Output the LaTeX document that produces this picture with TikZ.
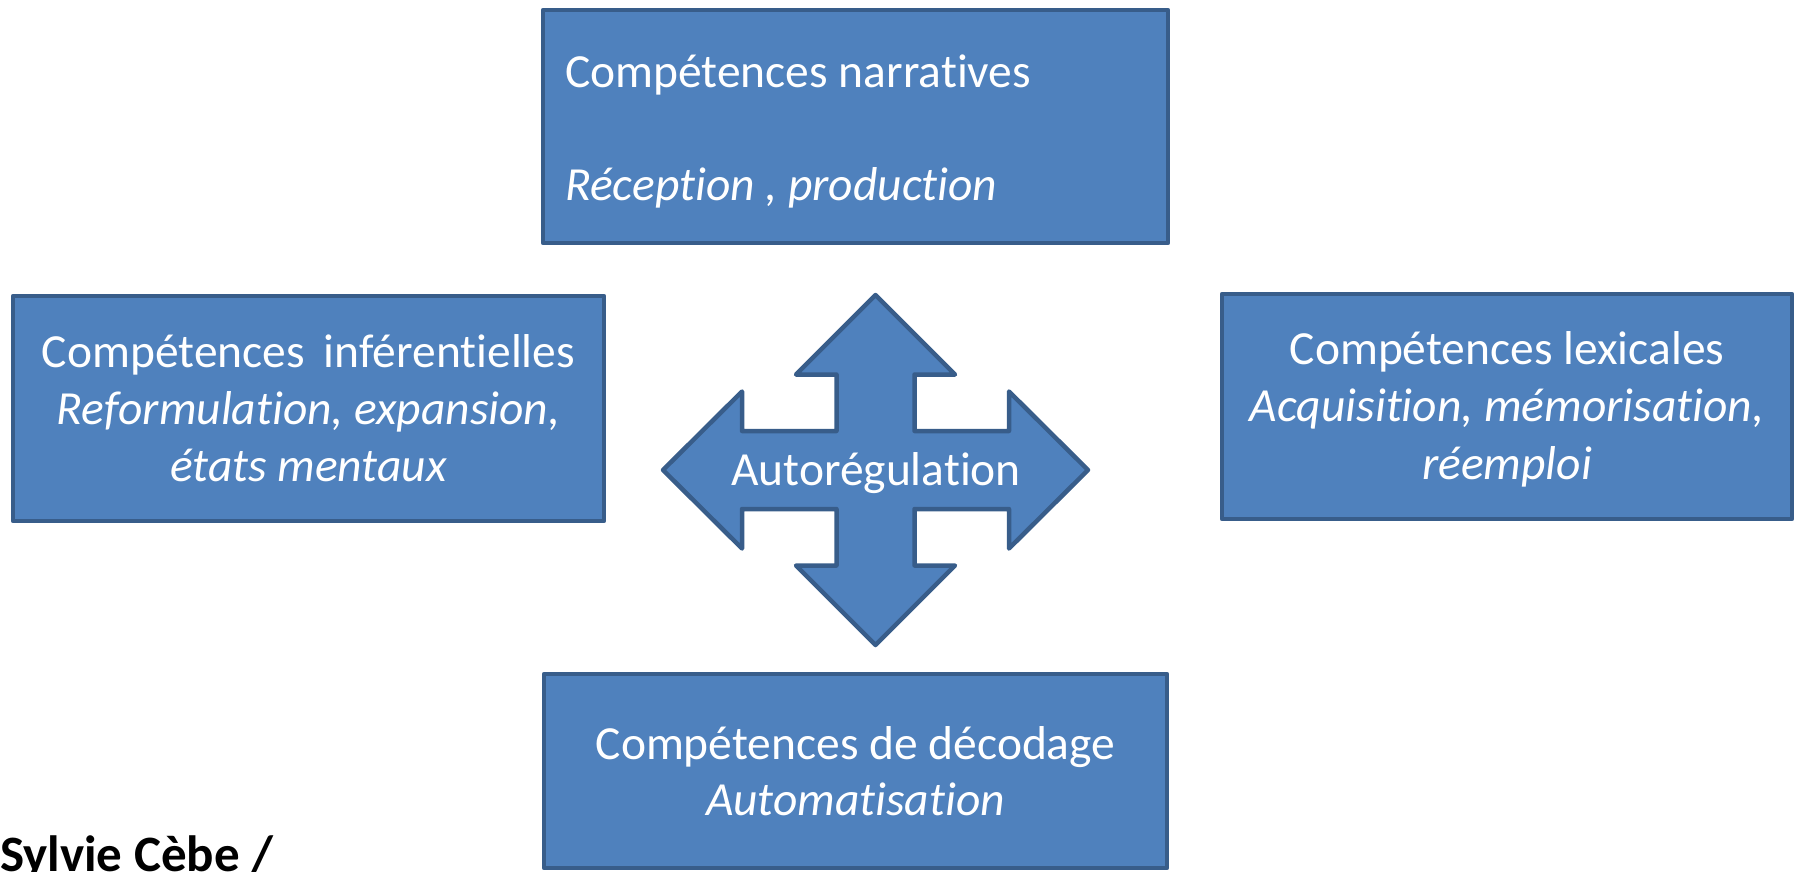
\documentclass[tikz,border=0pt]{standalone}
\usepackage{fontspec}
\setmainfont{Carlito}[Ligatures=NoCommon]
\definecolor{boxfill}{HTML}{4F81BD}
\definecolor{boxline}{HTML}{385D8A}
\tikzset{
  box/.style={draw=boxline, fill=boxfill, line width=4.5pt, line join=round, rectangle, inner sep=0pt},
  shapeline/.style={draw=boxline, fill=boxfill, line width=4.5pt, line join=round},
  txt/.style={text=white, font=\fontsize{47.5}{57.5}\selectfont, inner sep=0pt},
  itxt/.style={txt, font=\fontsize{47.5}{57.5}\selectfont\itshape},
}
\begin{document}
\begin{tikzpicture}[x=1pt,y=-1pt]
\useasboundingbox (0,0) rectangle (1796,871);
% boxes
\node[box, minimum width=625pt, minimum height=233pt] (narr) at (855.5,126.5) {};
\node[box, minimum width=591pt, minimum height=225pt] (infer) at (308.5,408.5) {};
\node[box, minimum width=570pt, minimum height=225pt] (lex) at (1507,406.5) {};
\node[box, minimum width=623pt, minimum height=194pt] (deco) at (855.5,771) {};
% quad arrow
\coordinate (c) at (875.5,470);
\draw[shapeline] (875.5,295) -- (955,374.5) -- (914.5,374.5) -- (914.5,431) -- (1009,431) -- (1009,391.5)
  -- (1088,470) -- (1009,548.5) -- (1009,509) -- (914.5,509) -- (914.5,565.5) -- (955,565.5)
  -- (875.5,645) -- (796,565.5) -- (836.5,565.5) -- (836.5,509) -- (742,509) -- (742,548.5)
  -- (663,470) -- (742,391.5) -- (742,431) -- (836.5,431) -- (836.5,374.5) -- (796,374.5) -- cycle;
\node[txt, anchor=base] (auto) at (876,485) {Autorégulation};
% top box text
\node[txt, anchor=base west] (narr1) at (565,87) {Compétences narratives};
\node[itxt, anchor=base west] (narr2) at (565,200) {Réception , production};
% left box text
\node[txt, anchor=base] (inf1) at (308.5,367) {Compétences\hspace{0.4em}inférentielles};
\node[itxt, anchor=base] (inf2) at (308.5,424.5) {Reformulation, expansion,};
\node[itxt, anchor=base] (inf3) at (308.5,481.5) {états mentaux};
% right box text
\node[txt, anchor=base] (lex1) at (1507,364) {Compétences lexicales};
\node[itxt, anchor=base] (lex2) at (1507,421.5) {Acquisition, mémorisation,};
\node[itxt, anchor=base] (lex3) at (1507,479) {réemploi};
% bottom box text
\node[txt, anchor=base] (dec1) at (855.5,759) {Compétences de décodage};
\node[itxt, anchor=base] (dec2) at (855.5,815.5) {Automatisation};
% author
\node[anchor=base west, inner sep=0pt, font=\fontsize{51}{61}\selectfont\bfseries] (author) at (0,871) {Sylvie Cèbe /};
\end{tikzpicture}
\end{document}
